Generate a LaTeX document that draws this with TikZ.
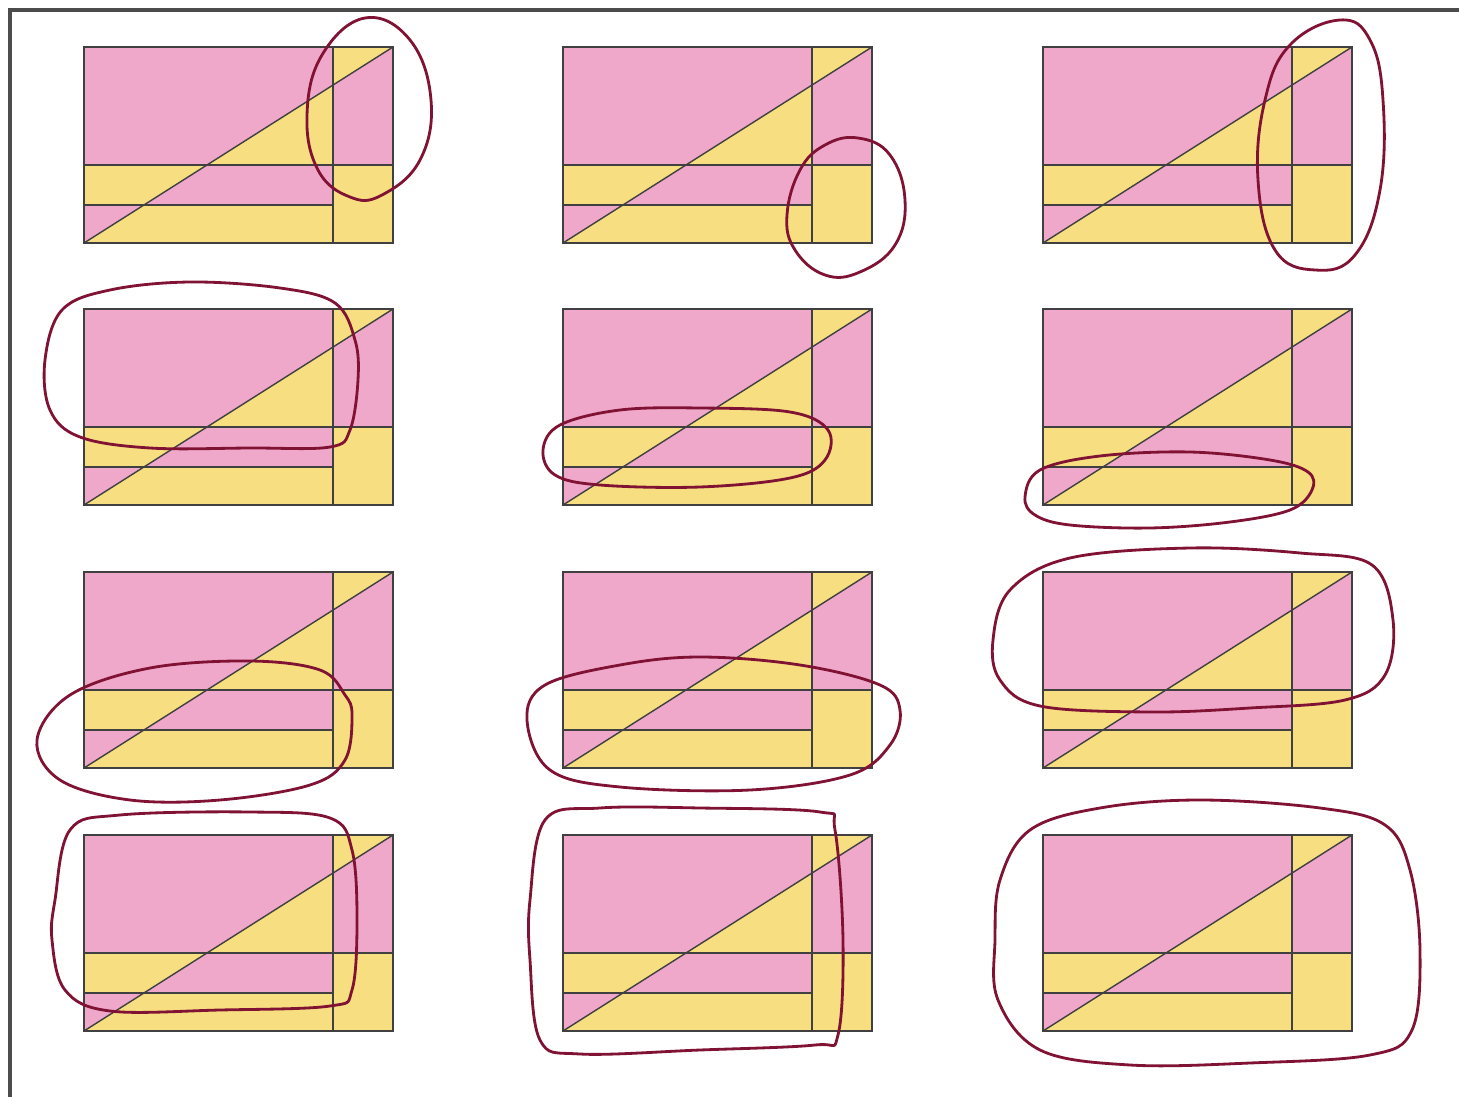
\documentclass[tikz,border=0pt]{standalone}
\usepackage{tikz}
\definecolor{panelpink}{RGB}{240,168,202}
\definecolor{panelyellow}{RGB}{247,222,128}
\definecolor{penred}{RGB}{128,18,52}
\tikzset{
  outline/.style={draw=black!75, line width=0.8pt},
  loop/.style={draw=penred, line width=1.6pt, line join=round}
}
\begin{document}
\begin{tikzpicture}[x=0.2mm, y=-0.2mm]
    \useasboundingbox (0,0) rectangle (1459,1097);
    % Page edge
    \draw[black!70, line width=1.8pt] (10,1097) -- (10,10) -- (1459,10);
    % Twelve equal panels
    \foreach \px/\py in {84/47, 563/47, 1043/47, 84/309, 563/309, 1043/309,
                         84/572, 563/572, 1043/572, 84/835, 563/835, 1043/835}
    {
        \begin{scope}[shift={(\px,\py)}]
            \fill[panelpink] (0,0) rectangle (309,196);
            % Yellow pieces
            \fill[panelyellow] (123,118) -- (249,118) -- (249,38.1) -- cycle;
            \fill[panelyellow] (249,0) -- (309,0) -- (249,38.1) -- cycle;
            \fill[panelyellow] (0,118) -- (123,118) -- (59.9,158) -- (0,158) -- cycle;
            \fill[panelyellow] (249,118) rectangle (309,196);
            \fill[panelyellow] (59.9,158) -- (249,158) -- (249,196) -- (0,196) -- cycle;
            % Lines
            \draw[outline] (0,0) rectangle (309,196);
            \draw[outline] (249,0) -- (249,196);
            \draw[outline] (0,118) -- (309,118);
            \draw[outline] (0,158) -- (249,158);
            \draw[outline] (0,196) -- (309,0);
        \end{scope}
    }
    % Hand-drawn loops, row 1
    \draw[loop] plot[smooth cycle, tension=0.7] coordinates {(365,18) (410,40) (431,100) (420,160) (382,195) (350,197) (318,170) (307,115) (322,55)};
    \draw[loop] plot[smooth cycle, tension=0.7] coordinates {(858,138) (890,155) (905,200) (895,245) (860,272) (825,275) (795,250) (787,215) (800,170) (825,145)};
    \draw[loop] plot[smooth cycle, tension=0.7] coordinates {(1340,20) (1370,40) (1383,100) (1380,190) (1355,255) (1315,270) (1275,250) (1258,180) (1265,100) (1290,45)};
    % Row 2
    \draw[loop] plot[smooth cycle, tension=0.6] coordinates {(45,360) (62,310) (110,290) (190,282) (280,288) (335,303) (355,340) (358,380) (350,430) (330,447) (250,448) (150,448) (80,437) (50,410)};
    \draw[loop] plot[smooth cycle, tension=0.6] coordinates {(543,450) (560,425) (620,410) (700,408) (790,412) (828,430) (825,460) (790,478) (700,487) (600,485) (555,475)};
    \draw[loop] plot[smooth cycle, tension=0.6] coordinates {(1025,497) (1040,470) (1100,456) (1190,452) (1270,460) (1308,472) (1312,490) (1290,510) (1230,522) (1150,528) (1070,525) (1035,515)};
    % Row 3
    \draw[loop] plot[smooth cycle, tension=0.6] coordinates {(37,740) (70,695) (150,668) (250,661) (320,670) (345,695) (352,715) (345,760) (310,785) (220,800) (130,800) (60,780)};
    \draw[loop] plot[smooth cycle, tension=0.6] coordinates {(527,720) (545,685) (620,665) (700,657) (800,665) (880,685) (900,710) (890,745) (850,775) (750,790) (620,787) (550,770)};
    \draw[loop] plot[smooth cycle, tension=0.6] coordinates {(993,640) (1010,590) (1070,558) (1190,548) (1300,553) (1372,565) (1393,620) (1385,675) (1345,700) (1250,708) (1150,712) (1040,706) (1000,680)};
    % Row 4
    \draw[loop] plot[smooth cycle, tension=0.6] coordinates {(55,900) (70,830) (120,815) (250,812) (330,818) (352,850) (357,920) (352,990) (330,1006) (220,1010) (110,1011) (65,990) (52,940)};
    \draw[loop] plot[smooth cycle, tension=0.6] coordinates {(530,900) (545,820) (600,808) (700,808) (820,812) (835,830) (843,940) (838,1035) (815,1045) (700,1050) (580,1054) (540,1040) (530,960)};
    \draw[loop] plot[smooth cycle, tension=0.6] coordinates {(1000,880) (1030,830) (1100,808) (1200,800) (1320,808) (1385,825) (1410,870) (1420,950) (1412,1030) (1370,1055) (1250,1063) (1130,1065) (1040,1050) (998,1000) (995,940)};
\end{tikzpicture}
\end{document}
